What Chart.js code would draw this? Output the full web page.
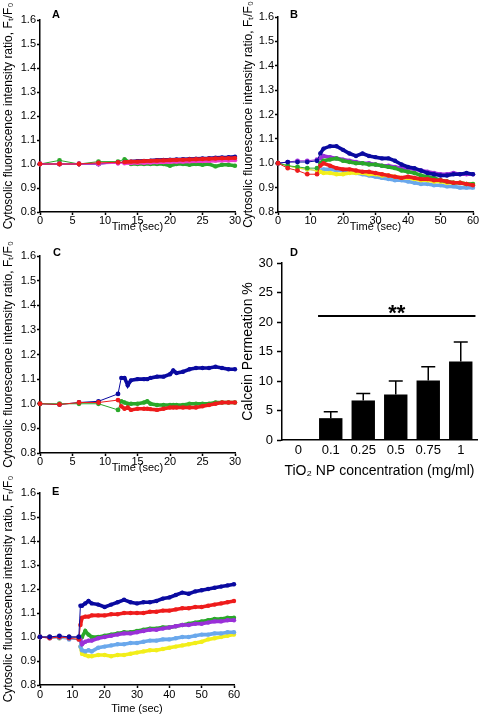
<!DOCTYPE html>
<html>
<head>
<meta charset="utf-8">
<script src="https://cdn.jsdelivr.net/npm/chart.js@4.4.1/dist/chart.umd.min.js"></script>
<style>
  html, body { margin: 0; padding: 0; background: #fff; }
  #fig { position: relative; width: 482px; height: 719px; overflow: hidden; }
  canvas { position: absolute; }
  .tag { position: absolute; font: bold 11px "Liberation Sans", Arial, sans-serif; line-height: 11px; }
</style>
</head>
<body>
<div id="fig">
  <canvas id="chartA" width="244" height="234" style="left:0;top:0"></canvas>
  <canvas id="chartB" width="242" height="234" style="left:240px;top:0"></canvas>
  <canvas id="chartC" width="244" height="241" style="left:0;top:234px"></canvas>
  <canvas id="chartD" width="242" height="246" style="left:240px;top:234px"></canvas>
  <canvas id="chartE" width="244" height="242" style="left:0;top:474px"></canvas>
  <div class="tag" style="left:52px;top:9px">A</div>
  <div class="tag" style="left:290px;top:9px">B</div>
  <div class="tag" style="left:53px;top:247px">C</div>
  <div class="tag" style="left:290px;top:247px">D</div>
  <div class="tag" style="left:52px;top:486px">E</div>
</div>
<script>
// colours used by the traces
const navy = '#0a0aa0';
const red = '#ee1c1c';
const green = '#2aa82a';
const pink = '#ee3ccc';
const purple = '#9a30d8';
const lightBlue = '#6aa8ec';
const yellow = '#f2ee1a';

// panel A (0-30 s)
const timeA = [0, 3, 6, 9, 12, 13, 14, 15, 16, 17, 18, 19, 20, 21, 22, 23, 24, 25, 26, 27, 28, 29, 30];
const greenA = [1.0, 1.015, 1.0, 1.01, 1.01, 1.02, 1.0, 1.0, 1.0, 1.0, 1.0, 1.0, 0.993, 1.0, 1.0, 0.997, 1.0, 0.997, 1.0, 0.99, 0.997, 0.997, 0.993];
const redA = [1.0, 1.0, 1.0, 1.005, 1.007, 1.008, 1.01, 1.01, 1.012, 1.013, 1.014, 1.015, 1.016, 1.017, 1.018, 1.019, 1.02, 1.021, 1.022, 1.023, 1.024, 1.024, 1.025];
const pinkA = [1.0, 1.0, 1.0, 1.0, 1.003, 1.003, 1.004, 1.005, 1.005, 1.006, 1.007, 1.008, 1.009, 1.01, 1.01, 1.011, 1.012, 1.012, 1.013, 1.014, 1.015, 1.015, 1.016];
const navyA = [1.0, 1.0, 1.0, 1.0, 1.005, 1.008, 1.01, 1.012, 1.013, 1.014, 1.016, 1.017, 1.018, 1.019, 1.02, 1.021, 1.022, 1.023, 1.024, 1.026, 1.027, 1.028, 1.03];
const purpleA = [1.0, 1.0, 1.0, 1.0, 1.005, 1.006, 1.007, 1.008, 1.009, 1.01, 1.011, 1.012, 1.013, 1.014, 1.015, 1.016, 1.017, 1.018, 1.019, 1.02, 1.021, 1.021, 1.022];

// panel B (0-60 s)
const timeB = [0, 3, 6, 9, 12, 13, 14, 16, 18, 20, 22, 24, 26, 28, 30, 32, 34, 36, 38, 40, 42, 44, 46, 48, 50, 52, 54, 56, 58, 60];
const navyB = [1.0, 1.005, 1.005, 1.005, 1.01, 1.04, 1.06, 1.07, 1.07, 1.055, 1.04, 1.03, 1.04, 1.03, 1.025, 1.02, 1.02, 1.01, 0.995, 0.985, 0.98, 0.97, 0.96, 0.955, 0.95, 0.95, 0.955, 0.955, 0.96, 0.955];
const purpleB = [1.0, 1.005, 1.01, 1.01, 1.015, 1.02, 1.03, 1.025, 1.02, 1.015, 1.01, 1.005, 1.0, 1.0, 0.995, 0.99, 0.99, 0.985, 0.98, 0.98, 0.975, 0.97, 0.965, 0.96, 0.955, 0.955, 0.96, 0.955, 0.955, 0.955];
const greenB = [1.0, 0.99, 0.985, 0.98, 0.98, 1.0, 1.01, 1.015, 1.02, 1.01, 1.005, 1.0, 1.0, 0.995, 0.995, 0.99, 0.985, 0.98, 0.97, 0.965, 0.96, 0.95, 0.945, 0.94, 0.93, 0.925, 0.92, 0.92, 0.915, 0.915];
const yellowB = [1.0, 0.99, 0.98, 0.975, 0.97, 0.965, 0.96, 0.96, 0.955, 0.955, 0.96, 0.96, 0.96, 0.955, 0.955, 0.95, 0.95, 0.945, 0.94, 0.94, 0.935, 0.93, 0.93, 0.925, 0.925, 0.92, 0.92, 0.92, 0.915, 0.915];
const lightBlueB = [1.0, 0.99, 0.98, 0.975, 0.97, 0.97, 0.975, 0.975, 0.97, 0.97, 0.965, 0.96, 0.955, 0.95, 0.945, 0.94, 0.935, 0.93, 0.93, 0.925, 0.92, 0.915, 0.915, 0.91, 0.91, 0.905, 0.905, 0.9, 0.9, 0.9];
const redB = [1.0, 0.98, 0.97, 0.955, 0.955, 0.99, 1.0, 0.99, 0.98, 0.975, 0.975, 0.97, 0.965, 0.965, 0.96, 0.955, 0.95, 0.945, 0.94, 0.945, 0.94, 0.935, 0.935, 0.93, 0.93, 0.925, 0.92, 0.92, 0.915, 0.91];

// panel C (0-30 s)
const timeC = [0, 3, 6, 9, 12, 12.5, 13, 13.5, 14, 15, 16, 16.5, 17, 18, 19, 20, 20.5, 21, 22, 23, 24, 25, 26, 27, 28, 29, 30];
const navyC = [1.0, 0.997, 1.005, 1.01, 1.04, 1.105, 1.105, 1.075, 1.095, 1.1, 1.1, 1.1, 1.105, 1.11, 1.11, 1.12, 1.135, 1.125, 1.13, 1.14, 1.145, 1.145, 1.145, 1.15, 1.145, 1.14, 1.14];
const greenC = [1.0, 1.0, 1.0, 1.0, 0.975, 1.01, 1.005, 1.0, 1.0, 1.0, 1.005, 1.01, 1.0, 0.995, 0.995, 0.995, 0.995, 0.995, 0.995, 1.0, 1.0, 1.0, 1.0, 1.005, 1.005, 1.005, 1.005];
const redC = [1.0, 0.997, 1.005, 1.005, 1.015, 0.99, 0.98, 0.985, 0.975, 0.98, 0.98, 0.98, 0.978, 0.975, 0.98, 0.985, 0.985, 0.985, 0.985, 0.985, 0.985, 0.99, 0.995, 1.0, 1.005, 1.005, 1.005];

// panel D, calcein permeation (%)
const concD = ['0', '0.1', '0.25', '0.5', '0.75', '1'];
const permD = [0, 3.7, 6.7, 7.7, 10.1, 13.3];
const errD = [0, 1.1, 1.2, 2.3, 2.3, 3.3];
const sigLevel = 21;

// panel E (0-60 s)
const timeE = [0, 3, 6, 9, 12, 12.5, 13, 14, 15, 16, 18, 20, 22, 24, 26, 28, 30, 32, 34, 36, 38, 40, 42, 44, 46, 48, 50, 52, 54, 56, 58, 60];
const navyE = [1.0, 1.0, 1.005, 1.0, 1.0, 1.13, 1.13, 1.14, 1.15, 1.14, 1.135, 1.125, 1.135, 1.145, 1.155, 1.145, 1.14, 1.145, 1.145, 1.15, 1.16, 1.165, 1.175, 1.185, 1.18, 1.19, 1.195, 1.2, 1.205, 1.21, 1.215, 1.22];
const redE = [1.0, 0.995, 1.0, 0.995, 0.99, 1.05, 1.08, 1.085, 1.085, 1.09, 1.09, 1.09, 1.095, 1.095, 1.1, 1.1, 1.1, 1.1, 1.105, 1.105, 1.11, 1.11, 1.115, 1.12, 1.12, 1.125, 1.125, 1.13, 1.135, 1.14, 1.145, 1.15];
const greenE = [1.0, 1.0, 1.0, 1.0, 1.0, 1.0, 1.0, 1.025, 1.01, 1.0, 1.0, 1.005, 1.01, 1.015, 1.02, 1.02, 1.025, 1.03, 1.035, 1.035, 1.04, 1.04, 1.045, 1.05, 1.055, 1.06, 1.065, 1.07, 1.075, 1.075, 1.08, 1.08];
const purpleE = [1.0, 1.0, 1.0, 1.0, 1.0, 0.99, 0.97, 0.98, 0.985, 0.985, 0.995, 1.0, 1.005, 1.01, 1.015, 1.015, 1.02, 1.025, 1.03, 1.03, 1.035, 1.04, 1.045, 1.05, 1.05, 1.055, 1.055, 1.06, 1.065, 1.065, 1.07, 1.07];
const lightBlueE = [1.0, 0.995, 0.995, 0.99, 0.99, 0.96, 0.945, 0.94, 0.945, 0.94, 0.955, 0.96, 0.965, 0.97, 0.97, 0.975, 0.975, 0.98, 0.985, 0.985, 0.99, 0.99, 0.995, 1.0, 1.0, 1.005, 1.01, 1.01, 1.015, 1.015, 1.02, 1.02];
const yellowE = [1.0, 1.0, 0.995, 1.0, 0.995, 0.96, 0.93, 0.925, 0.92, 0.92, 0.925, 0.925, 0.92, 0.925, 0.925, 0.93, 0.935, 0.94, 0.945, 0.945, 0.95, 0.955, 0.96, 0.965, 0.97, 0.975, 0.98, 0.99, 0.995, 1.0, 1.005, 1.01];

const yTitle = 'Cytosolic fluorescence intensity ratio, F\u209C/F\u2080';

Chart.defaults.font.family = '"Liberation Sans", Arial, sans-serif';
Chart.defaults.color = '#000';

function lineChart(id, times, seriesList, xMax, xStep, denseFrom, box) {
    new Chart(document.getElementById(id), {
        type: 'line',
        data: {
            // first entry ends up drawn on top
            datasets: seriesList.map(([values, color]) => ({
                data: values.map((v, i) => ({ x: times[i], y: v })),
                borderColor: color,
                backgroundColor: color,
                borderWidth: 1,
                pointRadius: ctx => (ctx.raw && ctx.raw.x < denseFrom ? 2.4 : 2.2),
                pointBorderWidth: 0,
                segment: {
                    borderWidth: ctx => (ctx.p0.parsed.x >= denseFrom ? 3.6 : 1)
                },
                clip: 6
            }))
        },
        options: {
            responsive: false,
            animation: false,
            layout: { padding: { top: box.top, right: box.right, left: 0, bottom: 0 } },
            plugins: { legend: { display: false }, tooltip: { enabled: false } },
            scales: {
                x: {
                    type: 'linear',
                    min: 0,
                    max: xMax,
                    border: { color: '#000', width: 1.5 },
                    grid: { drawOnChartArea: false, color: '#000', tickLength: 3, tickWidth: 1.5 },
                    ticks: { stepSize: xStep, padding: box.xPad, font: { size: 11 }, maxRotation: 0 },
                    title: { display: true, text: 'Time (sec)', font: { size: 11 }, padding: 0 },
                    afterFit: s => { s.height = box.xh; }
                },
                y: {
                    min: 0.8,
                    max: 1.6,
                    border: { color: '#000', width: 1.5 },
                    grid: { drawOnChartArea: false, color: '#000', tickLength: 3, tickWidth: 1.5 },
                    ticks: { stepSize: 0.1, padding: 1, font: { size: 11 }, callback: v => v.toFixed(1) },
                    title: { display: true, text: yTitle, font: { size: 12 }, padding: { top: 1, bottom: 0 } },
                    afterFit: s => { s.width = box.yw; }
                }
            }
        }
    });
}

lineChart('chartA', timeA,
    [[redA, red], [pinkA, pink], [navyA, navy], [purpleA, purple], [greenA, green]],
    30, 5, 12.5, { top: 20, right: 9, yw: 40, xh: 22, xPad: -1 });

lineChart('chartB', timeB,
    [[redB, red], [navyB, navy], [greenB, green], [purpleB, purple], [yellowB, yellow], [lightBlueB, lightBlue]],
    60, 10, 12.5, { top: 17, right: 9, yw: 38, xh: 22, xPad: -1 });

lineChart('chartC', timeC,
    [[redC, red], [greenC, green], [navyC, navy]],
    30, 5, 12.5, { top: 22, right: 9, yw: 40, xh: 22, xPad: -1 });

lineChart('chartE', timeE,
    [[navyE, navy], [redE, red], [purpleE, purple], [greenE, green], [lightBlueE, lightBlue], [yellowE, yellow]],
    60, 10, 12.5, { top: 19, right: 10, yw: 40, xh: 31, xPad: 0 });

// error bars and the significance line for panel D
const barExtras = {
    id: 'barExtras',
    afterDatasetsDraw(chart) {
        const { ctx, scales: { y } } = chart;
        const bars = chart.getDatasetMeta(0).data;
        ctx.save();
        ctx.strokeStyle = '#000';
        ctx.lineWidth = 1.5;
        bars.forEach((bar, i) => {
            if (!errD[i]) return;
            const top = y.getPixelForValue(permD[i] + errD[i]);
            ctx.beginPath();
            ctx.moveTo(bar.x, bar.y);
            ctx.lineTo(bar.x, top);
            ctx.moveTo(bar.x - 7, top);
            ctx.lineTo(bar.x + 7, top);
            ctx.stroke();
        });
        const first = bars[1], last = bars[bars.length - 1];
        const ly = y.getPixelForValue(sigLevel);
        const x0 = first.x - first.width / 2 - 1;
        const x1 = last.x + last.width / 2 + 3;
        ctx.lineWidth = 2;
        ctx.beginPath();
        ctx.moveTo(x0, ly);
        ctx.lineTo(x1, ly);
        ctx.stroke();
        ctx.fillStyle = '#000';
        ctx.font = 'bold 22px "Liberation Sans", Arial, sans-serif';
        ctx.textAlign = 'center';
        ctx.textBaseline = 'alphabetic';
        ctx.fillText('**', (x0 + x1) / 2, ly + 4);
        ctx.restore();
    }
};

new Chart(document.getElementById('chartD'), {
    type: 'bar',
    plugins: [barExtras],
    data: {
        labels: concD,
        datasets: [{
            data: permD,
            backgroundColor: '#000',
            borderWidth: 0,
            barPercentage: 0.72,
            categoryPercentage: 1
        }]
    },
    options: {
        responsive: false,
        animation: false,
        layout: { padding: { top: 29, right: 5, left: 0, bottom: 0 } },
        plugins: { legend: { display: false }, tooltip: { enabled: false } },
        scales: {
            x: {
                border: { color: '#000', width: 1.5 },
                grid: { display: false, drawTicks: false },
                ticks: { padding: 3, font: { size: 13 } },
                title: { display: true, text: 'TiO\u2082 NP concentration (mg/ml)', font: { size: 14 }, padding: 0 },
                afterFit: s => { s.height = 40; }
            },
            y: {
                min: 0,
                max: 30,
                border: { color: '#000', width: 1.5 },
                grid: { drawOnChartArea: false, color: '#000', tickLength: 5, tickWidth: 1.5 },
                ticks: { stepSize: 5, padding: 4, font: { size: 13 } },
                title: { display: true, text: 'Calcein Permeation %', font: { size: 14 }, padding: 0 },
                afterFit: s => { s.width = 42; }
            }
        }
    }
});
</script>
</body>
</html>
